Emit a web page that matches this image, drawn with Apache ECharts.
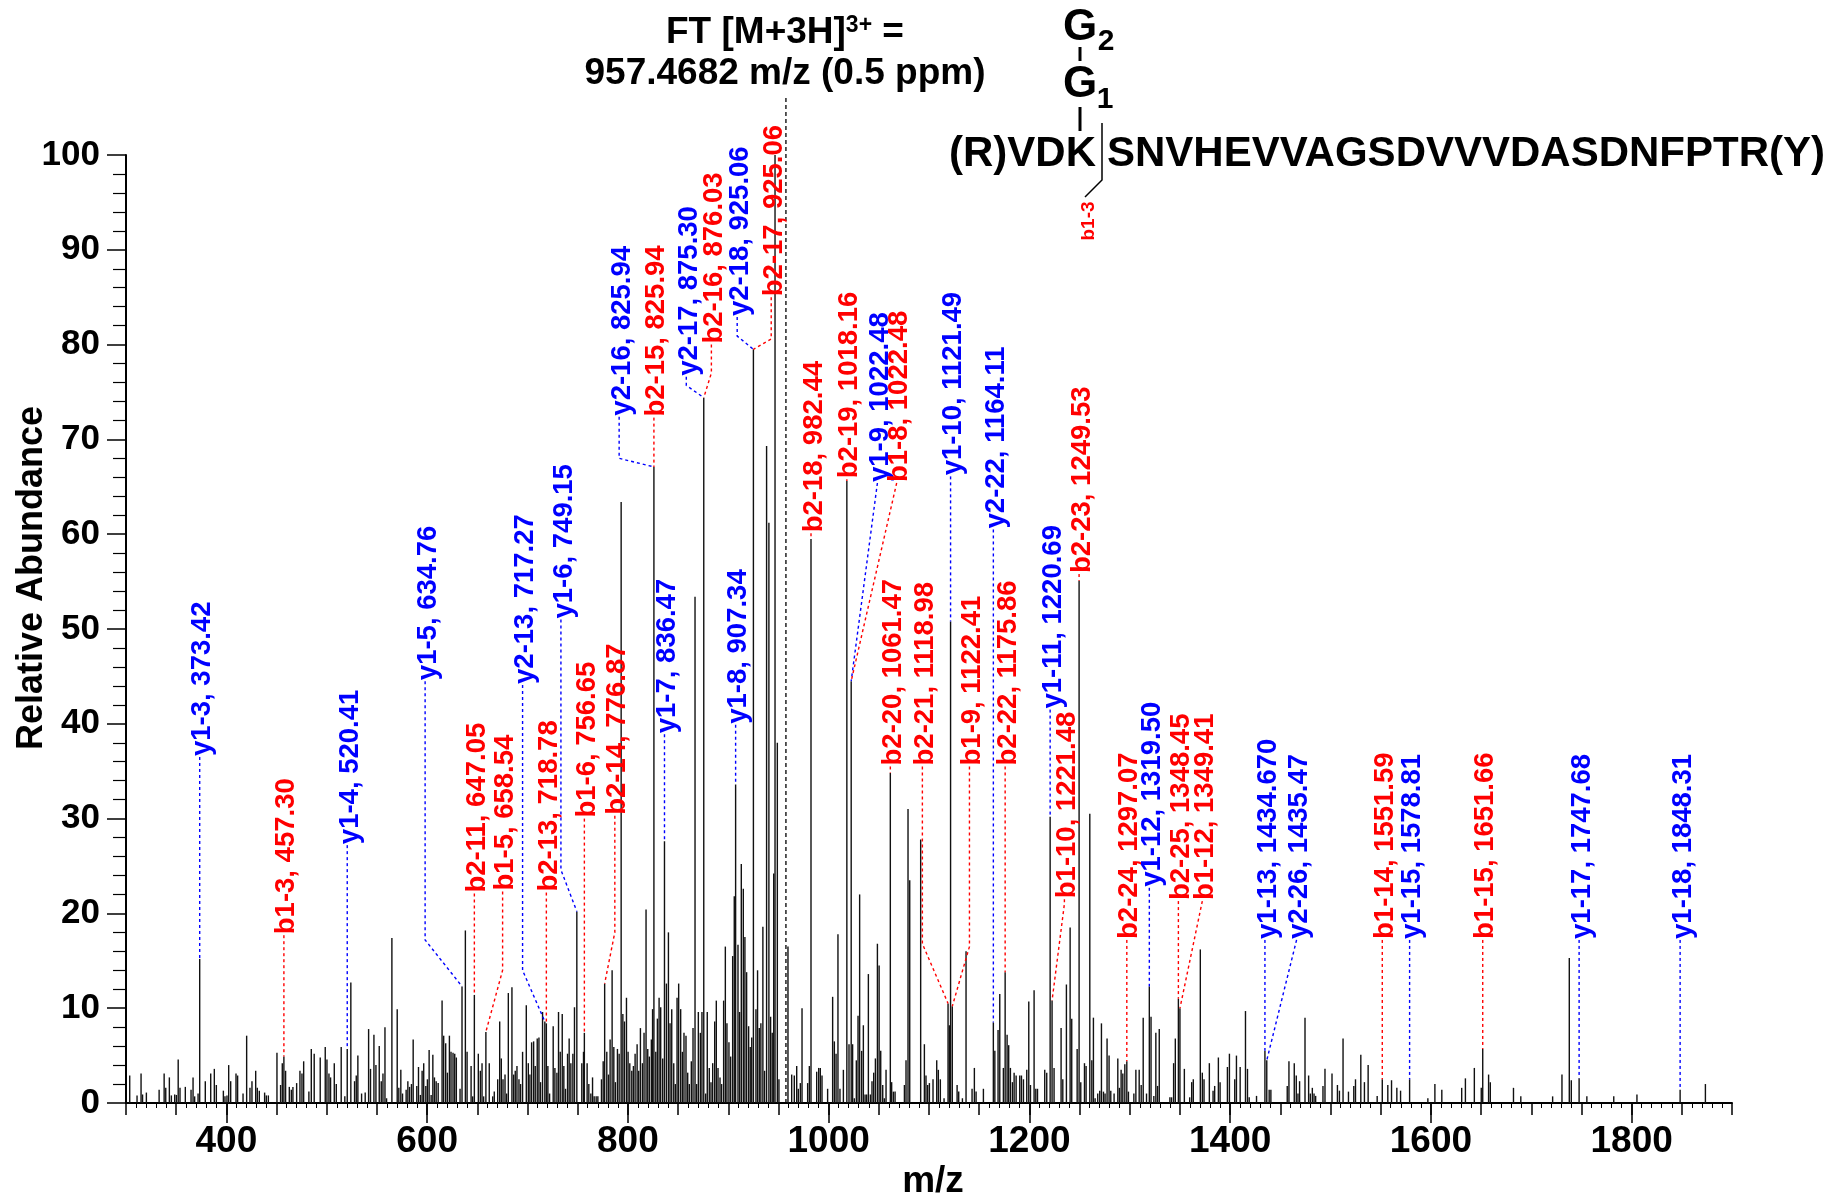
<!DOCTYPE html>
<html>
<head>
<meta charset="utf-8">
<script src="https://cdn.jsdelivr.net/npm/echarts@6/dist/echarts.min.js"></script>
<style>
  html, body { margin: 0; padding: 0; background: #fff; }
  #main { width: 1841px; height: 1199px; }
</style>
</head>
<body>
<div id="main"></div>
<script>
// peaks (m/z, relative abundance)
var peakMz = [
  303.7, 311, 315, 316.5, 320.3, 333, 338, 339.6, 343.2, 345.2, 348.5, 350.2, 352, 353.8, 359.1, 364.8, 366.8, 368.4, 371.8, 373.42,
  379, 384.4, 388, 390, 397, 398.6, 400.6, 402.3, 404.3, 409.6, 411.2, 416.6, 420.2, 423.5, 425.5, 429.2, 430.8, 432.8, 438.1, 439.8,
  441.8, 450.4, 454, 455.7, 457.3, 459, 462.7, 464.7, 466.3, 470, 473.3, 475.3, 477, 482.2, 484.6, 487.5, 493.5, 498.5, 500.2, 502.2,
  503.8, 507.5, 509.5, 514.4, 518, 520.41, 524, 527.7, 529.4, 531, 534.7, 538.3, 541.7, 543.6, 547, 549, 552.3, 554.3, 556, 558,
  559.6, 564.9, 570.2, 571.8, 573.8, 575.5, 579.1, 580.8, 582.5, 584.4, 586.1, 589.7, 591.4, 593.3, 595, 596.6, 598.7, 600.3, 602, 604,
  605.7, 607.3, 609, 611,
  614.9, 616.5, 618.5, 620.2, 622.2, 623.8, 625.8, 627.5, 629.1, 632.8, 634.76, 638.1, 639.8, 643.8, 645.4, 647.05, 651, 653, 654.7, 656.3,
  658.54, 661.9, 665.3, 666.9, 670.3, 672.3, 673.9, 675.6, 677.6, 679.2, 680.9, 684.5, 686.2, 687.8, 689.5, 691.5, 693.1, 695.1, 698.8, 700.8,
  702.4, 704.1, 706.1, 707.7, 709.7, 711.4, 713, 715, 717.27, 718.78, 720.3, 722, 725.6, 727.3, 729.3, 730.9, 732.6, 734.6, 736.2, 737.9,
  739.9, 741.5, 743.2, 745.2, 746.8, 749.15, 754.1, 755.8, 756.65, 759.4, 761.1, 763.1, 764.8, 766.4, 768.4, 770.1, 773.7, 775.4, 776.87, 779,
  780.7, 782.3, 784.3, 786, 787.6, 789.6, 791.3, 793.3, 795, 796.6, 798.6, 800.2, 801.9, 803.9, 805.5, 807.2, 809.2, 810.8, 812.5, 814.5,
  816.1, 818.1, 819.8, 821.4, 823.4, 824.6, 825.94, 827.8, 829.4, 831.1, 832.7, 834.7, 836.47, 838.4, 840.4, 842, 843.7, 845.7, 847.3, 849,
  850.6, 852.6, 854.3, 855.9, 857.9, 859.6, 861.2, 863.2, 864.9, 866.9, 868.5, 870.2, 872.2, 873.8, 875.6, 877.5, 879.1, 881.1, 882.8, 884.5,
  886.5, 888.1, 889.8, 891.8, 893.4, 895.4, 897.1, 898.7, 900.7, 902.4, 904.4, 906, 907.34, 909.7, 911.3, 913, 915, 916.6, 918.3, 920.3,
  921.9, 923.4, 925.06, 927.6, 929.2, 930.9, 932.5, 934.5, 936.2, 938.2, 940.5, 942.2, 943.8, 945.3, 946.6, 948.9, 950.5,
  959.5, 963.2, 965.8, 968.2, 969.8, 971.8, 973.5, 979.1, 980.8, 982.44, 988.1, 990.1, 991.7, 993.4, 999, 1004, 1005.7, 1007.4, 1009.3, 1011.3,
  1014.7, 1018.16, 1020.3, 1022.48, 1023.9, 1025.6, 1027.6, 1029.3, 1030.9, 1032.9, 1034.6, 1036.3, 1037.9, 1039.6, 1041.6, 1043.2, 1044.9, 1046.6, 1048.6, 1050.3,
  1051.9, 1053.9, 1055.5, 1057.2, 1061.47, 1062.8, 1064.5, 1066.2, 1075.5, 1077.1, 1079.1, 1080.8, 1091.7, 1095.4, 1097, 1098.7, 1100.4, 1104, 1107.7, 1109.3,
  1111.3, 1115, 1118.98, 1120.3, 1121.49, 1123.2, 1128, 1129.6, 1133.3, 1136.9, 1142.9, 1145.2, 1146.9, 1154.2, 1164.11, 1165.6, 1168.8, 1170.5, 1174.1, 1175.86,
  1177.8, 1179.4, 1181.1, 1183.1, 1184.8, 1186.8, 1190.4, 1192.1, 1194.1, 1197.4, 1199.4, 1201.1, 1204.7, 1206.4, 1208.1, 1215.3, 1217.3, 1220.69, 1222.6, 1224.6,
  1231.6, 1233.3, 1236.9, 1240.6, 1242.2, 1247.6, 1249.53, 1251.2, 1254.9, 1256.5, 1260.2, 1262.2, 1263.8, 1265.5,
  1268.1, 1270.1, 1271.8, 1273.8, 1275.4, 1277.4, 1279.4, 1281.1, 1284.4, 1288.1, 1289.7, 1291.4, 1293.1, 1295.1, 1297.07, 1298.7, 1304.1, 1306.1, 1309.4, 1311.4,
  1313.4, 1316.7, 1319.5, 1321.2, 1324, 1326, 1327.7, 1329.4, 1340, 1341.7, 1343.7, 1345.4, 1348.45, 1350, 1354.4, 1359.7, 1361.7, 1363.3, 1370.3, 1372.3,
  1374, 1379.3, 1383, 1384.6, 1388.3, 1390, 1397.3, 1399.3, 1404.6, 1406.3, 1410, 1415.3, 1417.3, 1419, 1426.3, 1434.67, 1436.5, 1438.9, 1440.6, 1456.9,
  1458.6, 1463.9, 1465.9, 1467.6, 1469.2, 1474.6, 1478.2, 1479.9, 1481.9, 1483.6, 1485.2, 1492.5, 1494.5, 1501.5, 1506.9, 1508.9, 1512.5, 1517.9, 1523.2, 1524.9,
  1530.2, 1533.8, 1537.5, 1546.5, 1551.59, 1557.1, 1560.8, 1566.1, 1569.8, 1578.81,
  1597, 1604, 1610.9, 1630.7, 1634.4, 1643.3, 1650.2, 1651.66, 1657.5, 1659.2, 1682.3, 1689.6, 1721.3, 1730.6, 1737.9, 1739.9, 1747.68, 1755.4, 1782.2, 1805.3,
  1848.31, 1873.5
];
var peakAbund = [
  2.9, 0.8, 3.1, 0.9, 1.1, 1.4, 3.1, 1.6, 2.7, 0.8, 0.9, 0.85, 4.6, 1.6, 1.7, 1.4, 2.7, 0.7, 1.0, 15.2,
  2.3, 3.1, 3.6, 1.9, 1.3, 0.7, 0.8, 4.0, 2.3, 3.1, 2.9, 1.0, 7.1, 1.6, 2.3, 3.4, 1.6, 1.3, 1.1, 0.8,
  0.8, 5.3, 1.9, 4.2, 4.9, 3.4, 1.7, 1.4, 1.7, 2.1, 3.4, 3.1, 4.4, 1.2, 5.7, 5.2, 4.8, 5.9, 4.6, 3.1,
  2.7, 4.2, 2.0, 5.9, 0.7, 5.7, 12.7, 2.3, 2.9, 5.0, 1.0, 1.1, 7.8, 3.6, 7.2, 4.0, 6.0, 2.3, 3.1, 8.0,
  0.5, 17.4, 9.9, 1.6, 3.5, 1.0, 1.4, 2.3, 1.7, 2.0, 6.7, 1.8, 3.8, 0.85, 3.4, 4.2, 1.8, 2.5, 5.6, 0.85,
  5.1, 2.7, 2.3, 2.1,
  10.8, 7.1, 6.3, 3.2, 7.1, 5.4, 5.3, 5.2, 4.8, 1.5, 12.3, 18.2, 5.4, 3.9, 0.7, 11.4, 5.2, 3.4, 4.2, 0.7,
  7.5, 4.2, 0.7, 1.2, 2.5, 8.6, 4.7, 2.5, 3.0, 1.0, 11.6, 12.2, 3.0, 3.4, 3.9, 2.5, 2.0, 5.4, 10.3, 4.2,
  3.0, 6.4, 6.5, 3.9, 6.8, 6.9, 2.2, 9.6, 8.6, 8.4, 3.9, 1.0, 8.1, 3.7, 3.2, 9.6, 5.4, 9.4, 3.9, 1.5,
  5.2, 6.8, 4.2, 5.2, 10.1, 20.2, 4.2, 5.4, 7.4, 4.2, 2.0, 1.0, 2.7, 0.7, 0.7, 0.7, 2.5, 4.4, 12.6, 5.4,
  3.0, 6.7, 14.0, 5.9, 2.2, 5.7, 5.2, 63.4, 9.4, 8.6, 11.1, 5.4, 4.2, 3.4, 3.9, 5.2, 6.2, 3.4, 7.9, 4.2,
  7.4, 20.4, 5.7, 4.9, 6.7, 9.9, 67.1, 5.4, 8.9, 11.1, 10.1, 4.7, 27.6, 12.6, 18.0, 8.4, 9.9, 4.2, 2.0, 11.1,
  12.6, 9.9, 5.4, 7.4, 7.1, 3.2, 2.0, 4.4, 7.9, 53.4, 2.0, 9.6, 7.4, 9.6, 74.4, 1.0, 9.6, 3.7, 2.2, 4.2,
  8.6, 10.8, 3.7, 2.7, 2.0, 10.8, 16.5, 8.4, 6.4, 4.9, 15.5, 21.8, 33.6, 16.7, 9.6, 25.2, 22.6, 17.5, 13.8, 8.1,
  5.9, 6.9, 79.5, 9.9, 14.0, 7.9, 8.4, 18.6, 3.4, 69.3, 61.2, 9.1, 7.4, 24.2, 100, 38.0, 2.5,
  16.5, 3.0, 2.9, 3.9, 1.5, 2.1, 10.0, 2.1, 3.9, 59.5, 3.3, 3.7, 3.7, 2.9, 1.5, 11.2, 6.5, 5.2, 17.8, 1.5,
  3.5, 65.6, 6.2, 44.5, 6.2, 0.5, 4.5, 9.2, 22.0, 5.5, 8.2, 0.9, 0.9, 13.6, 0.9, 2.3, 3.2, 4.7, 16.8, 14.5,
  5.5, 1.9, 0.5, 3.5, 34.8, 2.2, 1.2, 1.2, 1.9, 4.5, 31.0, 23.5, 27.8, 6.2, 2.9, 1.9, 2.1, 2.5, 4.5, 3.5,
  2.5, 0.5, 10.5, 8.2, 50.8, 10.2, 1.9, 1.2, 0.5, 16.0, 1.5, 3.7, 1.2, 1.5, 8.5, 5.5, 7.7, 11.5, 3.7, 13.8,
  7.2, 6.1, 3.7, 2.2, 3.2, 2.9, 2.9, 2.9, 2.5, 3.5, 10.7, 1.9, 11.9, 1.5, 1.5, 3.5, 3.2, 30.2, 10.8, 3.7,
  7.9, 2.5, 12.5, 18.5, 8.9, 5.7, 55.1, 2.2, 4.2, 3.9, 30.5, 4.5, 9.0, 0.5,
  1.0, 1.3, 8.4, 1.2, 1.0, 6.8, 5.0, 1.3, 1.0, 4.7, 1.6, 3.5, 3.1, 4.1, 4.4, 1.2, 1.0, 3.5, 3.5, 1.9,
  9.0, 1.0, 12.3, 9.1, 0.75, 7.4, 1.8, 7.8, 0.6, 0.6, 4.2, 6.8, 11.0, 10.0, 3.6, 0.6, 2.2, 2.5, 16.2, 3.2,
  2.5, 4.2, 1.3, 1.8, 4.8, 2.2, 3.8, 5.2, 2.5, 5.0, 3.8, 9.7, 3.6, 0.6, 0.75, 5.5, 4.5, 1.4, 1.4, 1.8,
  4.4, 4.2, 2.9, 1.0, 2.3, 9.0, 2.9, 1.0, 1.6, 1.0, 0.75, 1.8, 3.6, 3.1, 1.9, 1.3, 6.8, 1.2, 1.8, 2.5,
  5.1, 2.2, 4.0, 0.75, 2.5, 1.9, 2.4, 1.6, 1.3, 2.5,
  0.5, 2.0, 1.4, 1.6, 2.6, 3.7, 1.6, 5.7, 3.0, 2.2, 1.6, 0.7, 0.7, 3.0, 15.3, 2.4, 2.6, 0.7, 0.7, 0.9,
  1.4, 2.0
];

// fragment ion annotations
var ionText = [
  'y1-3, 373.42', 'b1-3, 457.30', 'y1-4, 520.41', 'y1-5, 634.76', 'b2-11, 647.05', 'b1-5, 658.54', 'y2-13, 717.27', 'b2-13, 718.78',
  'y1-6, 749.15', 'b1-6, 756.65', 'b2-14, 776.87', 'y2-16, 825.94', 'b2-15, 825.94', 'y2-17, 875.30', 'b2-16, 876.03', 'y2-18, 925.06',
  'b2-17, 925.06', 'y1-7, 836.47', 'y1-8, 907.34', 'b2-18, 982.44', 'b2-19, 1018.16', 'y1-9, 1022.48', 'b1-8, 1022.48', 'b2-20, 1061.47',
  'b2-21, 1118.98', 'y1-10, 1121.49', 'b1-9, 1122.41', 'y2-22, 1164.11', 'b2-22, 1175.86', 'y1-11, 1220.69', 'b1-10, 1221.48', 'b2-23, 1249.53',
  'b2-24, 1297.07', 'y1-12, 1319.50', 'b2-25, 1348.45', 'b1-12, 1349.41', 'y1-13, 1434.670', 'y2-26, 1435.47', 'b1-14, 1551.59', 'y1-15, 1578.81',
  'b1-15, 1651.66', 'y1-17, 1747.68', 'y1-18, 1848.31'
];
var ionLabelMz = [
  373.42, 457.30, 520.41, 598, 647.05, 675.2, 695.1, 718.78,
  733.3, 756.65, 787.0, 791.3, 825.94, 858.2, 883.2, 908.9,
  942.8, 836.47, 907.34, 982.44, 1018.16, 1048.6, 1067.8, 1061.47,
  1093.4, 1121.49, 1140.3, 1164.11, 1175.86, 1220.69, 1234.9, 1249.53,
  1297.07, 1319.5, 1348.45, 1372.3, 1434.67, 1466.2, 1551.59, 1578.81,
  1651.66, 1747.68, 1848.31
];
var ionLabelAbund = [
  36.5, 17.7, 27.2, 44.5, 22.1, 22.3, 44.1, 22.2,
  51.0, 30.0, 30.3, 72.4, 72.3, 76.6, 80.0, 82.9,
  85.0, 38.9, 39.9, 60.1, 65.8, 65.4, 65.4, 35.5,
  35.5, 66.1, 35.5, 60.5, 35.5, 41.5, 21.5, 55.8,
  17.2, 22.7, 21.3, 21.3, 17.2, 17.2, 17.2, 17.2,
  17.2, 17.2, 17.2
];
var ionBendAbund = [
  null, null, null, 17.2, null, 14.0, 14.0, null,
  24.6, null, 18.0, 68.0, null, 75.7, 77.0, 80.9,
  80.6, null, null, null, null, null, null, null,
  16.8, null, 16.5, null, null, null, 21.0, null,
  null, null, null, null, null, null, null, null,
  null, null, null
];
var ionTipMz = [
  373.42, 457.30, 520.41, 634.76, 647.05, 658.54, 717.27, 718.78,
  749.15, 756.65, 776.87, 825.94, 825.94, 875.6, 875.6, 925.06,
  925.06, 836.47, 907.34, 982.44, 1018.16, 1022.48, 1022.48, 1061.47,
  1118.98, 1121.49, 1123.2, 1164.11, 1175.86, 1220.69, 1222.6, 1249.53,
  1297.07, 1319.5, 1348.45, 1350, 1434.67, 1436.5, 1551.59, 1578.81,
  1651.66, 1747.68, 1848.31
];
var ionTipAbund = [
  15.2, 4.9, 5.7, 12.3, 11.4, 7.5, 8.6, 8.4,
  20.2, 7.4, 12.6, 67.1, 67.1, 74.4, 74.4, 79.5,
  79.5, 27.6, 33.6, 59.5, 65.6, 44.5, 44.5, 34.8,
  10.5, 50.8, 10.2, 8.5, 13.8, 30.2, 10.8, 55.1,
  4.4, 12.3, 11.0, 10.0, 5.5, 4.5, 2.5, 2.5,
  5.7, 2.6, 1.4
];

var xTickValues = [400, 600, 800, 1000, 1200, 1400, 1600, 1800];
var precursorMz = 957.4682;

var FONT = '"Liberation Sans", Arial, Helvetica, sans-serif';
var BLUE = '#0000ff', RED = '#ff0000';

var chart = echarts.init(document.getElementById('main'));

var peakData = peakMz.map(function (m, i) { return [m, peakAbund[i]]; });
var ionData = ionText.map(function (t, i) { return [ionLabelMz[i], ionLabelAbund[i], i]; });

var option = {
  animation: false,
  backgroundColor: '#fff',
  grid: { left: 126, right: 109, top: 155, bottom: 96 },
  xAxis: [
    {
      type: 'value', min: 300, max: 1900, interval: 50,
      axisLine: { lineStyle: { color: '#000', width: 2 } },
      axisTick: { length: 12, lineStyle: { color: '#000', width: 1.5 } },
      minorTick: { show: true, splitNumber: 5, length: 5, lineStyle: { color: '#000', width: 1 } },
      axisLabel: { show: false },
      splitLine: { show: false }
    },
    {
      type: 'value', min: 300, max: 1900, position: 'bottom',
      axisLine: { show: false },
      axisTick: { customValues: xTickValues, length: 20, lineStyle: { color: '#000', width: 1.5 } },
      axisLabel: {
        customValues: xTickValues, margin: 20,
        formatter: function (v) { return String(v); },
        color: '#000', fontSize: 37, fontWeight: 'bold', fontFamily: FONT
      },
      splitLine: { show: false }
    }
  ],
  yAxis: {
    type: 'value', min: 0, max: 100, interval: 10,
    axisLine: { show: true, lineStyle: { color: '#000', width: 2 } },
    axisTick: { show: true, length: 19, lineStyle: { color: '#000', width: 1.5 } },
    minorTick: { show: true, splitNumber: 5, length: 13, lineStyle: { color: '#000', width: 1.2 } },
    axisLabel: { margin: 26, color: '#000', fontSize: 35, fontWeight: 'bold', fontFamily: FONT },
    splitLine: { show: false }
  },
  graphic: [
    { type: 'text', x: 785, y: 33, style: {
        text: '{a|FT [M+3H]}{s|3+}{a| =}', align: 'center', verticalAlign: 'middle',
        rich: {
          a: { font: 'bold 37px ' + FONT, fill: '#000' },
          s: { font: 'bold 23px ' + FONT, fill: '#000', verticalAlign: 'top' }
        } } },
    { type: 'text', x: 785, y: 74, style: { text: '957.4682 m/z (0.5 ppm)', font: 'bold 37px ' + FONT, fill: '#000', align: 'center', verticalAlign: 'middle' } },
    // peptide structure
    { type: 'text', x: 1080, y: 28, style: { text: 'G', font: 'bold 44px ' + FONT, fill: '#000', align: 'center', verticalAlign: 'middle' } },
    { type: 'text', x: 1106, y: 42, style: { text: '2', font: 'bold 30px ' + FONT, fill: '#000', align: 'center', verticalAlign: 'middle' } },
    { type: 'line', shape: { x1: 1080, y1: 47, x2: 1080, y2: 61 }, style: { stroke: '#000', lineWidth: 3 } },
    { type: 'text', x: 1080, y: 85, style: { text: 'G', font: 'bold 44px ' + FONT, fill: '#000', align: 'center', verticalAlign: 'middle' } },
    { type: 'text', x: 1105, y: 100, style: { text: '1', font: 'bold 30px ' + FONT, fill: '#000', align: 'center', verticalAlign: 'middle' } },
    { type: 'line', shape: { x1: 1080, y1: 107, x2: 1080, y2: 131 }, style: { stroke: '#000', lineWidth: 3 } },
    { type: 'text', x: 1096, y: 154, style: { text: '(R)VDK', font: 'bold 42px ' + FONT, fill: '#000', align: 'right', verticalAlign: 'middle' } },
    { type: 'text', x: 1107, y: 154, style: { text: 'SNVHEVVAGSDVVVDASDNFPTR(Y)', font: 'bold 42px ' + FONT, fill: '#000', align: 'left', verticalAlign: 'middle' } },
    { type: 'polyline', shape: { points: [[1102, 123], [1102, 180], [1085, 197]] }, style: { stroke: '#000', lineWidth: 1.5, fill: null } },
    { type: 'text', x: 1089, y: 221, rotation: Math.PI / 2, style: { text: 'b1-3', font: 'bold 19px ' + FONT, fill: RED, align: 'center', verticalAlign: 'middle' } },
    // axis names
    { type: 'text', x: 32, y: 578, rotation: Math.PI / 2, style: { text: 'Relative Abundance', font: 'bold 36px ' + FONT, fill: '#000', align: 'center', verticalAlign: 'middle' } },
    { type: 'text', x: 933, y: 1182, style: { text: 'm/z', font: 'bold 37px ' + FONT, fill: '#000', align: 'center', verticalAlign: 'middle' } }
  ],
  series: [
    {
      type: 'custom', name: 'spectrum', xAxisIndex: 0,
      data: peakData,
      renderItem: function (params, api) {
        var p0 = api.coord([api.value(0), 0]);
        var p1 = api.coord([api.value(0), api.value(1)]);
        return { type: 'line', shape: { x1: p0[0], y1: p0[1], x2: p1[0], y2: p1[1] },
                 style: { stroke: '#111', lineWidth: 1.4 } };
      }
    },
    {
      type: 'custom', name: 'precursor', xAxisIndex: 0, clip: false,
      data: [[precursorMz, 106]],
      renderItem: function (params, api) {
        var p0 = api.coord([api.value(0), 0]);
        var p1 = api.coord([api.value(0), api.value(1)]);
        return { type: 'line', shape: { x1: p0[0], y1: p0[1], x2: p1[0], y2: p1[1] },
                 style: { stroke: '#000', lineWidth: 1.3, lineDash: [4, 3] } };
      }
    },
    {
      type: 'custom', name: 'ions', xAxisIndex: 0, clip: false, z: 5,
      data: ionData,
      renderItem: function (params, api) {
        var i = api.value(2);
        var top = api.coord([ionLabelMz[i], ionLabelAbund[i]]);
        var pts = [top];
        if (ionBendAbund[i] != null) pts.push(api.coord([ionLabelMz[i], ionBendAbund[i]]));
        pts.push(api.coord([ionTipMz[i], ionTipAbund[i]]));
        var color = ionText[i].charAt(0) == 'y' ? BLUE : RED;
        return {
          type: 'group',
          children: [
            { type: 'polyline', shape: { points: pts }, style: { stroke: color, lineWidth: 1.4, lineDash: [3, 3], fill: null } },
            { type: 'text', x: top[0] + 3, y: top[1] - 1, rotation: Math.PI / 2,
              style: { text: ionText[i], fill: color, font: 'bold 27.5px ' + FONT, align: 'left', verticalAlign: 'middle' } }
          ]
        };
      }
    }
  ]
};

chart.setOption(option);
</script>
</body>
</html>
